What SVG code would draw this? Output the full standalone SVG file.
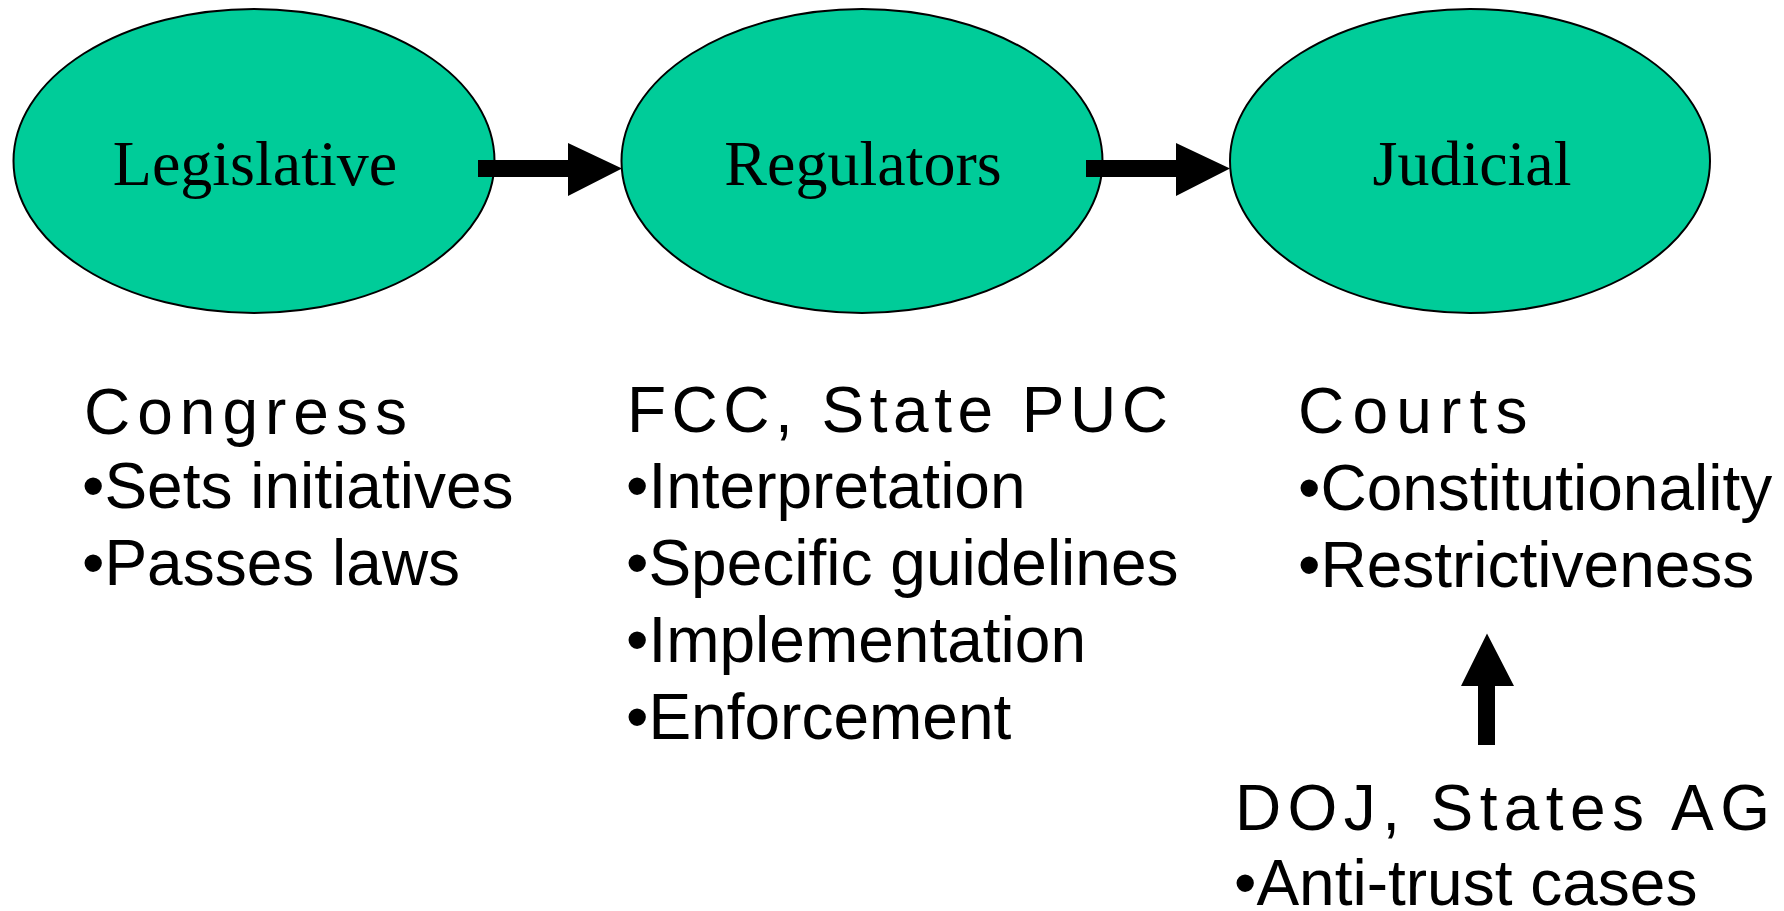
<svg xmlns="http://www.w3.org/2000/svg" width="1784" height="911" viewBox="0 0 1784 911">
  <style>
    .branch { fill: #00CC99; stroke: #000000; stroke-width: 2; }
    .branch-label { font-family: "Liberation Serif", "Times New Roman", serif; font-size: 64px; fill: #000000; text-anchor: middle; }
    .head { font-family: "Liberation Sans", Arial, sans-serif; font-size: 64px; fill: #000000; }
    .item { font-family: "Liberation Sans", Arial, sans-serif; font-size: 64px; fill: #000000; }
    .arrow { fill: #000000; stroke: none; }
  </style>
  <rect width="1784" height="911" fill="#ffffff"/>

  <!-- Branch ellipses -->
  <g id="legislative">
    <ellipse class="branch" cx="254" cy="161" rx="240.5" ry="152"/>
    <text class="branch-label" x="255" y="185">Legislative</text>
  </g>
  <g id="regulators">
    <ellipse class="branch" cx="862" cy="161" rx="240.5" ry="152"/>
    <text class="branch-label" x="863" y="185">Regulators</text>
  </g>
  <g id="judicial">
    <ellipse class="branch" cx="1470" cy="161" rx="240" ry="152"/>
    <text class="branch-label" x="1472" y="185">Judicial</text>
  </g>

  <!-- Connectors: block arrows -->
  <g id="connectors">
    <polygon class="arrow" points="478,160 568,160 568,143 622,168.5 568,196 568,177 478,177"/>
    <polygon class="arrow" points="1086,160 1176,160 1176,143 1230,168.5 1176,196 1176,177 1086,177"/>
    <polygon class="arrow" points="1478,745 1478,686 1461,686 1487,633.5 1514,686 1495,686 1495,745"/>
  </g>

  <!-- Descriptions under each branch -->
  <g id="congress">
    <text class="head" x="84" y="434" letter-spacing="7">Congress</text>
    <text class="item" x="82" y="508">•Sets initiatives</text>
    <text class="item" x="82" y="585">•Passes laws</text>
  </g>
  <g id="fcc-puc">
    <text class="head" x="627" y="432" letter-spacing="5.5">FCC, State PUC</text>
    <text class="item" x="626" y="508">•Interpretation</text>
    <text class="item" x="626" y="585">•Specific guidelines</text>
    <text class="item" x="626" y="662">•Implementation</text>
    <text class="item" x="626" y="739">•Enforcement</text>
  </g>
  <g id="courts">
    <text class="head" x="1298" y="433" letter-spacing="8.2">Courts</text>
    <text class="item" x="1298" y="510">•Constitutionality</text>
    <text class="item" x="1298" y="587">•Restrictiveness</text>
  </g>
  <g id="doj-ag">
    <text class="head" x="1235" y="830" letter-spacing="6.4">DOJ, States AG</text>
    <text class="item" x="1234" y="905">•Anti-trust cases</text>
  </g>
</svg>
